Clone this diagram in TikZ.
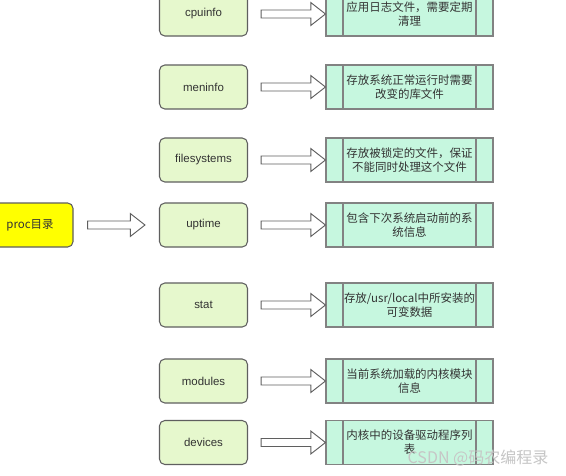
\documentclass[tikz,border=0pt]{standalone}
\usepackage{fontspec}
\setmainfont{Liberation Sans}
\newfontfamily\cjk{Noto Sans CJK SC}
\usetikzlibrary{calc}
\definecolor{greenfill}{RGB}{230,248,205}
\definecolor{aquafill}{RGB}{198,247,223}
\definecolor{yellowfill}{RGB}{255,255,0}
\definecolor{txt}{RGB}{51,51,51}
\definecolor{edgegray}{RGB}{95,95,95}
\definecolor{boxgray}{RGB}{130,130,130}
\tikzset{
  filebox/.style={draw=edgegray, line width=0.8pt, fill=greenfill, rounded corners=4pt,
    minimum width=66pt, minimum height=33pt, inner sep=0pt, text=txt,
    font=\fontsize{8.6pt}{10pt}\selectfont},
  rootbox/.style={draw=edgegray, line width=0.8pt, fill=yellowfill, rounded corners=4pt,
    minimum width=64.5pt, minimum height=33pt, inner sep=0pt, text=txt,
    font=\cjk\fontsize{8.6pt}{10pt}\selectfont},
  descbox/.style={draw=boxgray, line width=0.8pt, fill=aquafill,
    minimum width=125.25pt, minimum height=33pt, inner sep=0pt, text=txt,
    align=center, font=\cjk\fontsize{8.6pt}{10.5pt}\selectfont,
    path picture={
      \draw[boxgray, line width=0.8pt]
        ([xshift=12.75pt]path picture bounding box.north west) --
        ([xshift=12.75pt]path picture bounding box.south west);
      \draw[boxgray, line width=0.8pt]
        ([xshift=-12.75pt]path picture bounding box.north east) --
        ([xshift=-12.75pt]path picture bounding box.south east);
    }},
  barrow/.style={draw=edgegray, line width=0.7pt, fill=white, line join=miter},
  mark/.style={}
}
\newcommand\hollowarrow[4]{%
  \draw[barrow] let \p1=(#1.east), \p2=(#2.west) in
    (\x1+#3,\y1+3pt) -- (\x2-#4-11pt,\y1+3pt) -- (\x2-#4-11pt,\y1+8.6pt) --
    (\x2-#4,\y1) -- (\x2-#4-11pt,\y1-8.6pt) -- (\x2-#4-11pt,\y1-3pt) --
    (\x1+#3,\y1-3pt) -- cycle;}
\begin{document}
\begin{tikzpicture}[x=0.75pt,y=-0.75pt]
\useasboundingbox (0,0) rectangle (566,475);
\clip (0,0) rectangle (566,475);
\fill[white] (0,0) rectangle (566,475);
% root
\node[rootbox] (proc) at (30,225) {proc目录};
% file nodes
\node[filebox] (cpu) at (203.5,14) {cpuinfo};
\node[filebox] (mem) at (203.5,87) {meninfo};
\node[filebox] (fs) at (203.5,160) {filesystems};
\node[filebox] (up) at (203.5,225) {uptime};
\node[filebox] (st) at (203.5,305) {stat};
\node[filebox] (mod) at (203.5,381) {modules};
\node[filebox] (dev) at (203.5,442.5) {devices};
% descriptions
\node[descbox] (dcpu) at (409.5,14) {应用日志文件，需要定期\\清理};
\node[descbox] (dmem) at (409.5,87) {存放系统正常运行时需要\\改变的库文件};
\node[descbox] (dfs) at (409.5,160) {存放被锁定的文件，保证\\不能同时处理这个文件};
\node[descbox] (dup) at (409.5,225) {包含下次系统启动前的系\\统信息};
\node[descbox] (dst) at (409.5,305) {存放/usr/local中所安装的\\可变数据};
\node[descbox] (dmod) at (409.5,381) {当前系统加载的内核模块\\信息};
\node[descbox] (ddev) at (409.5,442.5) {内核中的设备驱动程序列\\表};
% arrows
\hollowarrow{proc}{up}{10.5pt}{10.5pt}
\hollowarrow{cpu}{dcpu}{9.75pt}{0pt}
\hollowarrow{mem}{dmem}{9.75pt}{0pt}
\hollowarrow{fs}{dfs}{9.75pt}{0pt}
\hollowarrow{up}{dup}{9.75pt}{0pt}
\hollowarrow{st}{dst}{9.75pt}{0pt}
\hollowarrow{mod}{dmod}{9.75pt}{0pt}
\hollowarrow{dev}{ddev}{9.75pt}{0pt}
% watermark
\node[text=gray!45, font=\cjk\fontsize{12pt}{14pt}\selectfont, anchor=center] (wm) at (478,458) {CSDN @码农编程录};
\end{tikzpicture}
\end{document}
